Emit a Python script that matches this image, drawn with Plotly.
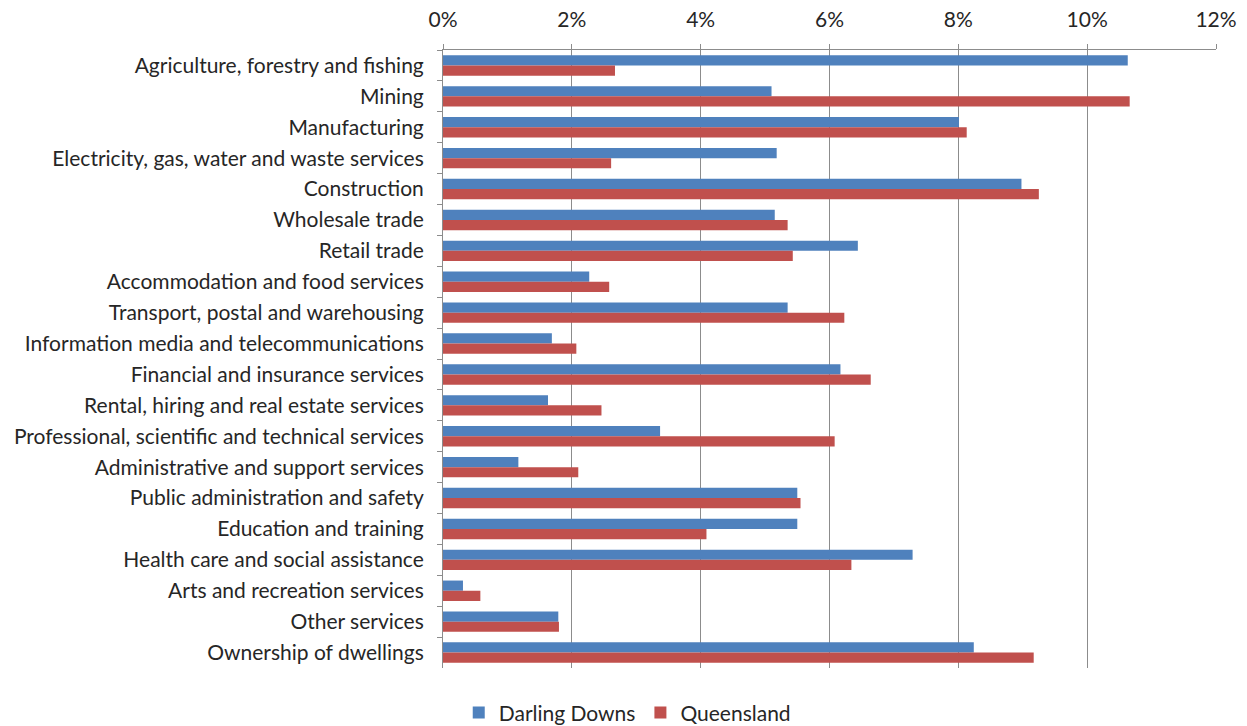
import plotly.graph_objects as go

industries = [
    "Agriculture, forestry and fishing",
    "Mining",
    "Manufacturing",
    "Electricity, gas, water and waste services",
    "Construction",
    "Wholesale trade",
    "Retail trade",
    "Accommodation and food services",
    "Transport, postal and warehousing",
    "Information media and telecommunications",
    "Financial and insurance services",
    "Rental, hiring and real estate services",
    "Professional, scientific and technical services",
    "Administrative and support services",
    "Public administration and safety",
    "Education and training",
    "Health care and social assistance",
    "Arts and recreation services",
    "Other services",
    "Ownership of dwellings",
]

darling_downs = [10.63, 5.10, 8.01, 5.18, 8.98, 5.15, 6.44, 2.27, 5.35, 1.69,
                 6.17, 1.63, 3.37, 1.17, 5.50, 5.50, 7.29, 0.31, 1.79, 8.24]
queensland = [2.67, 10.66, 8.13, 2.61, 9.25, 5.35, 5.43, 2.58, 6.23, 2.07,
              6.64, 2.46, 6.08, 2.10, 5.55, 4.09, 6.34, 0.58, 1.80, 9.17]

x_ticks = [0, 2, 4, 6, 8, 10, 12]
x_tick_labels = [f"{t}%" for t in x_ticks]

font_family = "Lato, 'Open Sans', sans-serif"

fig = go.Figure()
fig.add_trace(go.Bar(
    y=industries, x=darling_downs, name="Darling Downs", orientation="h",
    marker=dict(color="#4F81BD", line=dict(width=0)),
))
fig.add_trace(go.Bar(
    y=industries, x=queensland, name="Queensland", orientation="h",
    marker=dict(color="#C0504D", line=dict(width=0)),
))

fig.update_layout(
    width=1247, height=726,
    barmode="group", bargap=0.34, bargroupgap=0,
    plot_bgcolor="white", paper_bgcolor="white",
    margin=dict(l=443, r=31, t=50, b=58),
    font=dict(family=font_family, size=21, color="#262626"),
    legend=dict(
        orientation="h", xref="container", yref="container",
        x=0.503, xanchor="center", y=0.018, yanchor="middle",
        font=dict(size=21), itemwidth=30, tracegroupgap=0,
    ),
    xaxis=dict(
        side="top", range=[0, 12], tickvals=x_ticks, ticktext=x_tick_labels,
        showgrid=True, gridcolor="#8C8C8C", gridwidth=1,
        showline=True, linecolor="#8C8C8C", linewidth=1,
        ticks="outside", ticklen=5, tickcolor="#8C8C8C",
        zeroline=False, tickfont=dict(size=21), ticklabelstandoff=9,
        automargin=False,
    ),
    yaxis=dict(
        autorange="reversed", type="category",
        showline=True, linecolor="#8C8C8C", linewidth=1,
        ticks="outside", ticklen=5, tickcolor="#8C8C8C",
        tickson="boundaries", showgrid=False,
        tickfont=dict(size=21), ticklabelstandoff=14,
        automargin=False,
    ),
)

fig.write_html("out.html")
